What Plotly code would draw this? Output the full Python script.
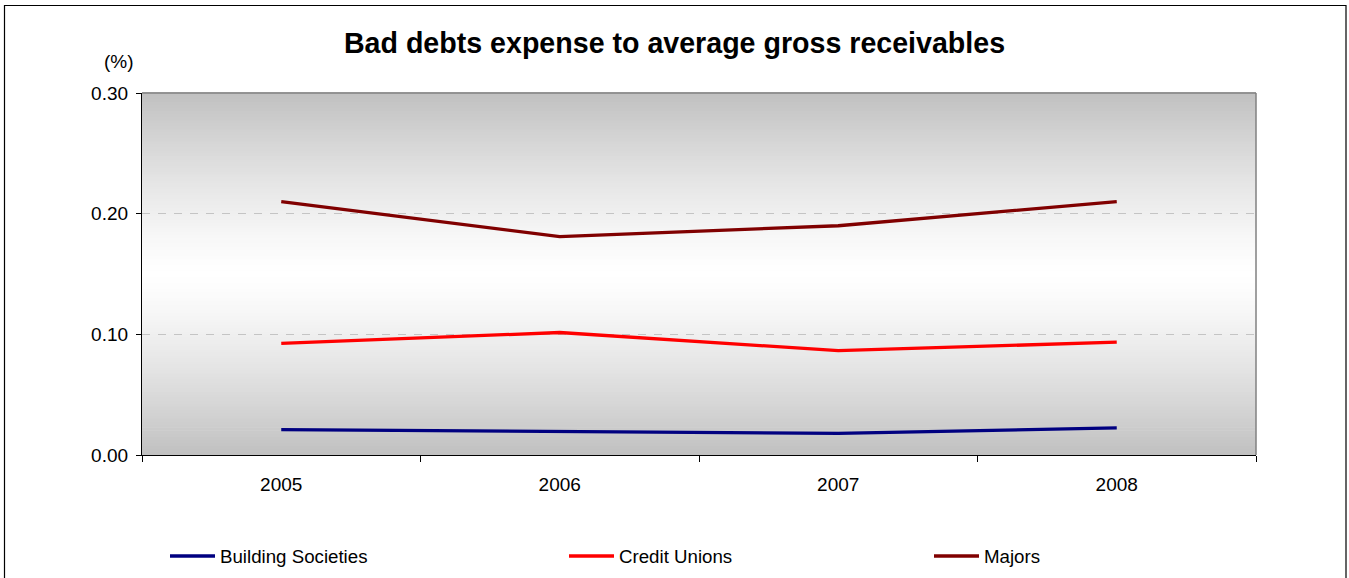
import plotly.graph_objects as go

# Bad debts expense as a share of average gross receivables (%)
years = ["2005", "2006", "2007", "2008"]
building_societies = [0.021, 0.0195, 0.018, 0.0225]
credit_unions = [0.0925, 0.1015, 0.0865, 0.0935]
majors = [0.21, 0.181, 0.19, 0.21]

series_names = ["Building Societies", "Credit Unions", "Majors"]
series_values = [building_societies, credit_unions, majors]
series_colors = ["#000080", "#FF0000", "#800000"]

FONT = "Liberation Sans, Arial, sans-serif"

W, H = 1349, 578
L, R, T, B = 142, 93, 93, 123
PW, PH = W - L - R, H - T - B


def px_x(px):
    """Container pixel x -> paper x."""
    return (px - L) / PW


def px_y(py):
    """Container pixel y (from top) -> paper y."""
    return (H - B - py) / PH


fig = go.Figure()
for name, vals, col in zip(series_names, series_values, series_colors):
    fig.add_trace(go.Scatter(
        x=years, y=vals, name=name, mode="lines",
        line=dict(color=col, width=3.3),
        showlegend=False,
    ))

shapes = []

# Vertical gradient in the plot area: grey at top and bottom, white in the middle
n_bands = 120
for i in range(n_bands):
    y0 = i / n_bands
    y1 = (i + 1) / n_bands
    t = abs((y0 + y1) / 2 - 0.5) * 2
    g = int(round(255 - (255 - 192) * t ** 1.3))
    shapes.append(dict(
        type="rect", xref="x domain", yref="y domain",
        x0=0, x1=1, y0=y0, y1=y1 + 0.002,
        fillcolor=f"rgb({g},{g},{g})", line=dict(width=0), layer="below",
    ))

# Grey frame on the top and right of the plot area
shapes.append(dict(type="line", xref="paper", yref="paper", x0=0, x1=1, y0=1, y1=1,
                   line=dict(color="#808080", width=1.5), layer="above"))
shapes.append(dict(type="line", xref="paper", yref="paper", x0=1, x1=1, y0=0, y1=1,
                   line=dict(color="#808080", width=1.5), layer="above"))

# Outer chart border
shapes.append(dict(type="rect", xref="paper", yref="paper",
                   x0=px_x(4.5), x1=px_x(1346), y0=px_y(585), y1=px_y(5.5),
                   line=dict(color="black", width=1.2), fillcolor="rgba(0,0,0,0)",
                   layer="above"))

# Legend row
legend_line_x = [170, 569, 934]
legend_y = 556
annotations = []
for name, col, lx in zip(series_names, series_colors, legend_line_x):
    shapes.append(dict(type="line", xref="paper", yref="paper",
                       x0=px_x(lx), x1=px_x(lx + 45), y0=px_y(legend_y), y1=px_y(legend_y),
                       line=dict(color=col, width=3.3), layer="above"))
    annotations.append(dict(
        text=name, xref="paper", yref="paper", x=px_x(lx + 48), y=px_y(legend_y),
        xanchor="left", yanchor="middle", showarrow=False,
        font=dict(family=FONT, size=18.7, color="black"),
    ))

# Unit label above the value axis
annotations.append(dict(
    text="(%)", xref="paper", yref="paper", x=px_x(119), y=px_y(61),
    xanchor="center", yanchor="middle", showarrow=False,
    font=dict(family=FONT, size=19, color="black"),
))

fig.update_layout(
    width=W, height=H,
    margin=dict(l=L, r=R, t=T, b=B, pad=0),
    paper_bgcolor="white",
    plot_bgcolor="white",
    font=dict(family=FONT, color="black"),
    title=dict(
        text="<b>Bad debts expense to average gross receivables</b>",
        xref="container", x=0.5, xanchor="center",
        yref="container", y=1 - 43 / H, yanchor="middle",
        font=dict(family=FONT, size=28.6, color="black"),
    ),
    xaxis=dict(
        type="category", categoryorder="array", categoryarray=years,
        range=[-0.5, 3.5],
        tickson="boundaries", ticks="outside", ticklen=6, tickcolor="black",
        showline=True, linecolor="black", linewidth=1.2,
        showgrid=False, zeroline=False,
        tickfont=dict(family=FONT, size=19, color="black"),
        ticklabelstandoff=12,
    ),
    yaxis=dict(
        range=[0, 0.3], tickvals=[0, 0.1, 0.2, 0.3], tickformat=".2f",
        ticks="outside", ticklen=5, tickcolor="black",
        showline=True, linecolor="black", linewidth=1.2,
        showgrid=True, gridcolor="#c4c4c4", gridwidth=1, griddash="8px,8px",
        zeroline=False,
        tickfont=dict(family=FONT, size=19, color="black"),
        ticklabelstandoff=4,
    ),
    shapes=shapes,
    annotations=annotations,
)

fig.write_html("out.html")
